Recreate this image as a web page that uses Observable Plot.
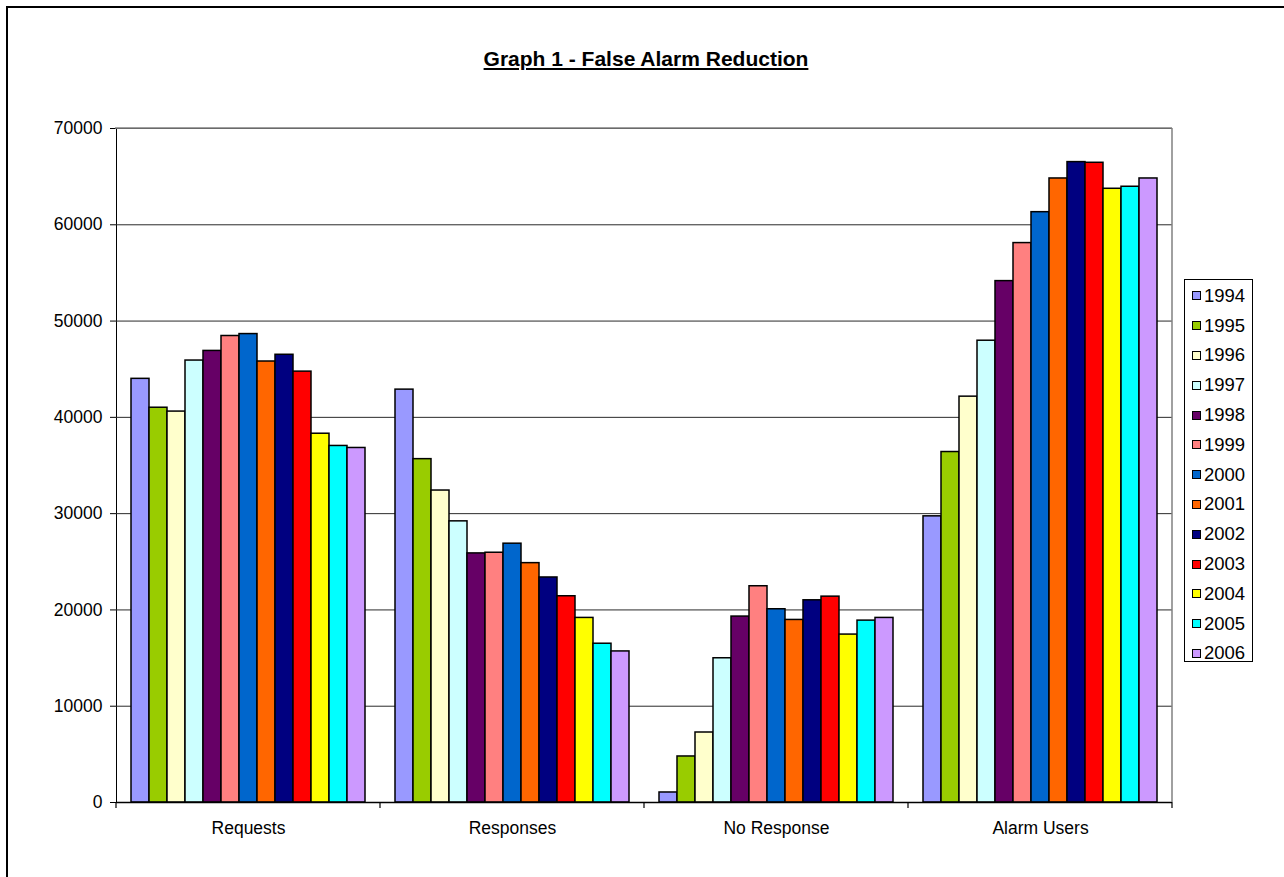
<!DOCTYPE html>
<html>
<head>
<meta charset="utf-8">
<script src="https://cdn.jsdelivr.net/npm/d3@7"></script>
<script src="https://cdn.jsdelivr.net/npm/@observablehq/plot@0.6"></script>
<style>
  html, body { margin: 0; padding: 0; background: #fff; }
  #page { position: relative; width: 1284px; height: 877px; overflow: hidden; font-family: Arial, "Liberation Sans", sans-serif; }
  #frame { position: absolute; left: 6px; top: 6px; width: 1400px; height: 1000px; border-left: 2px solid #000; border-top: 2px solid #000; }
  #title { position: absolute; left: 0; width: 1292px; top: 47px; text-align: center; font-weight: bold; font-size: 21px; text-decoration: underline; color: #000; }
  #chart { position: absolute; left: 0; top: 0; }
  #legend { position: absolute; left: 1184px; top: 279px; width: 69px; height: 383px; border: 1px solid #000; box-sizing: border-box; background: #fff; padding-top: 1px; }
  .item { height: 29.8px; display: flex; align-items: center; font-size: 18.5px; color: #000; }
  .sw { width: 7px; height: 7px; border: 1px solid #000; margin-left: 7px; margin-right: 3px; }
</style>
</head>
<body>
<div id="page">
  <div id="frame"></div>
  <div id="title">Graph 1 - False Alarm Reduction</div>
  <div id="chart"></div>
  <div id="legend"></div>
</div>
<script>
const categories = ["Requests", "Responses", "No Response", "Alarm Users"];
const years = ["1994","1995","1996","1997","1998","1999","2000","2001","2002","2003","2004","2005","2006"];
const requests   = [44000, 41000, 40600, 45900, 46900, 48450, 48650, 45800, 46500, 44750, 38300, 37030, 36820];
const responses  = [42880, 35660, 32400, 29200, 25870, 25940, 26880, 24860, 23370, 21420, 19170, 16490, 15690];
const noResponse = [1040, 4780, 7270, 14980, 19310, 22460, 20070, 18960, 21000, 21380, 17440, 18890, 19170];
const alarmUsers = [29720, 36400, 42150, 47960, 54150, 58100, 61310, 64810, 66510, 66440, 63740, 63950, 64810];
const yearColors = ["#9999FF","#99CC00","#FFFFCC","#CCFFFF","#660066","#FF8080","#0066CC","#FF6600","#000080","#FF0000","#FFFF00","#00FFFF","#CC99FF"];
const yTicks = [0, 10000, 20000, 30000, 40000, 50000, 60000, 70000];

const series = [requests, responses, noResponse, alarmUsers];
const data = [];
categories.forEach((c, ci) => years.forEach((y, yi) => data.push({category: c, year: y, value: series[ci][yi]})));

const plot = Plot.plot({
  width: 1284,
  height: 877,
  marginLeft: 115,
  marginRight: 112,
  marginTop: 128,
  marginBottom: 75,
  style: {fontSize: "17.5px", fontFamily: "Arial, 'Liberation Sans', sans-serif", color: "#000", background: "transparent", overflow: "visible"},
  fx: {domain: categories, padding: 0, label: null, tickSize: 0, tickPadding: 19, axis: "bottom"},
  x: {domain: years, paddingInner: 0, paddingOuter: 0.75, axis: null},
  y: {domain: [0, 70000], ticks: yTicks, tickFormat: "d", tickSize: 6, tickPadding: 8, label: null, line: true},
  color: {domain: years, range: yearColors},
  marks: [
    Plot.ruleY(yTicks, {stroke: "#2a2a2a", strokeWidth: 1}),
    Plot.barY(data, {fx: "category", x: "year", y: "value", fill: "year", stroke: "#000", strokeWidth: 1.5}),
    Plot.ruleY([0], {stroke: "#000", strokeWidth: 1.5})
  ]
});
document.getElementById("chart").appendChild(plot);

// plot-area border (top and right) and category boundary ticks, from the scales
const fx = plot.scale("fx");
const ys = plot.scale("y");
const svg = d3.select(plot);
const [yBottom, yTop] = ys.range;
const xLeft = fx.range[0], xRight = fx.range[1];
const g = svg.append("g");
g.append("line").attr("x1", xLeft).attr("x2", xRight).attr("y1", yTop).attr("y2", yTop).attr("stroke", "#808080").attr("stroke-width", 1.5);
g.append("line").attr("x1", xRight).attr("x2", xRight).attr("y1", yTop).attr("y2", yBottom).attr("stroke", "#808080").attr("stroke-width", 1.5);
const bounds = categories.map(c => fx.apply(c)).concat([fx.apply(categories[categories.length - 1]) + fx.bandwidth]);
bounds.forEach(b => {
  g.append("line").attr("x1", b).attr("x2", b).attr("y1", yBottom).attr("y2", yBottom + 6).attr("stroke", "#000").attr("stroke-width", 1.2);
});

// legend
const legend = document.getElementById("legend");
years.forEach((y, i) => {
  const item = document.createElement("div");
  item.className = "item";
  const sw = document.createElement("div");
  sw.className = "sw";
  sw.style.background = yearColors[i];
  const t = document.createElement("span");
  t.textContent = y;
  item.appendChild(sw); item.appendChild(t);
  legend.appendChild(item);
});
</script>
</body>
</html>
